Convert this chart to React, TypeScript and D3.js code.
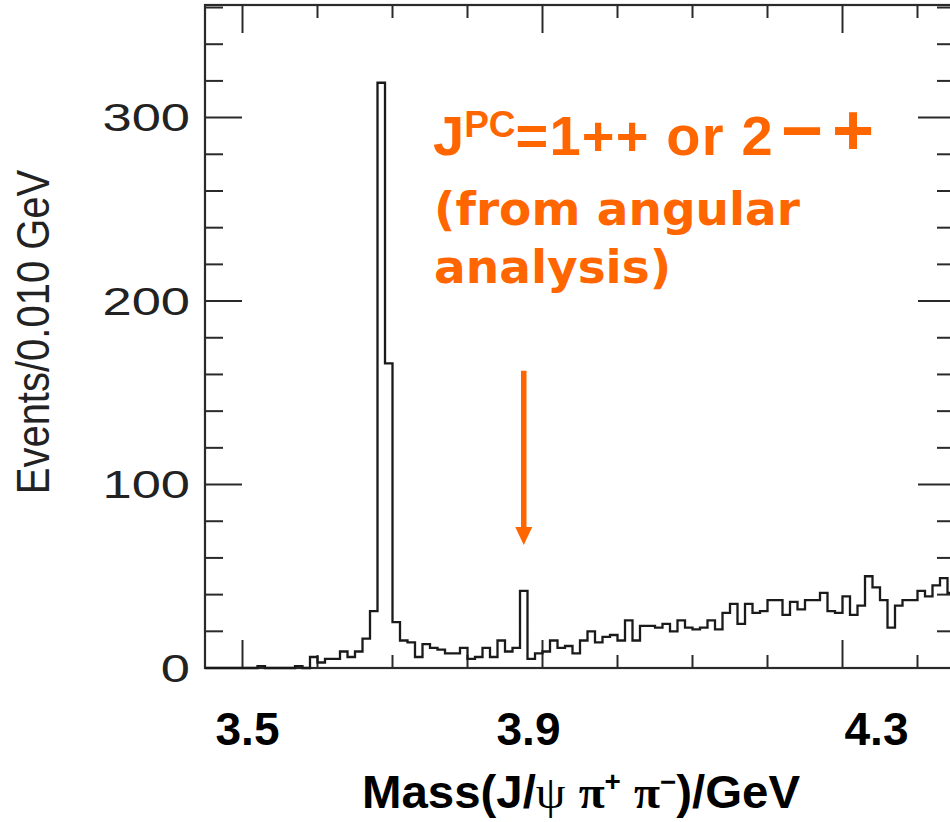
import React from 'react';
import * as d3 from 'd3';

// Histogram: Mass(J/psi pi+ pi-) in 0.010 GeV bins starting at 3.45 GeV
const binStart = 3.45;
const binWidth = 0.01;
const counts = [
  0, 0, 0, 0, 0, 0, 0, 1, 0, 0,
  0, 0, 1, 0, 6, 3, 5, 5, 9, 6,
  9, 16, 31, 319, 166, 25, 15, 14, 6, 13,
  11, 10, 8, 8, 11, 5, 6, 11, 6, 15,
  9, 11, 42, 5, 8, 9, 15, 11, 12, 8,
  15, 20, 14, 17, 18, 15, 26, 15, 23, 23,
  22, 24, 20, 26, 22, 21, 22, 26, 21, 30,
  35, 24, 35, 30, 31, 37, 37, 29, 36, 32,
  37, 37, 41, 31, 30, 39, 29, 34, 50, 44,
  37, 22, 34, 37, 37, 42, 39, 45, 49, 41,
];

const xMinorTicks = [3.5, 3.6, 3.7, 3.8, 3.9, 4.0, 4.1, 4.2, 4.3, 4.4];
const xMajorTicks = [3.5, 3.9, 4.3];
const xTickLabels = ['3.5', '3.9', '4.3'];
const yMajorTicks = [0, 100, 200, 300];
const yTickLabels = ['0', '100', '200', '300'];
const yMinorTicks = d3.range(0, 361, 20);
const arrowMass = 3.875;
const arrowFrom = 162;
const arrowTo = 67;

// the slide's pasted tick labels sit slightly off the tick marks (px nudges)
const xLabelNudge = [5, -14, 34];

export default function App() {
  const W = 950;
  const H = 822;
  const left = 205, right = 955, top = 5, bottom = 668;
  const x = d3.scaleLinear().domain([3.45, 4.45]).range([left, right]);
  const y = d3.scaleLinear().domain([0, 300]).range([bottom, 117.6]);

  const pts: [number, number][] = [];
  counts.forEach((c, i) => {
    const lo = binStart + i * binWidth;
    const hi = lo + binWidth;
    pts.push([x(lo), y(c)]);
    pts.push([x(hi), y(c)]);
  });
  const line = d3.line<[number, number]>().x(d => d[0]).y(d => d[1]);
  const histPath = line(pts) || '';

  const axisColor = '#2a2a2a';
  const orange = '#ff6600';
  const isMajorX = (v: number) => xMajorTicks.some(m => Math.abs(m - v) < 1e-6);
  const isMajorY = (v: number) => yMajorTicks.includes(v);

  const ax = x(arrowMass);
  const ay0 = y(arrowFrom);
  const ay1 = y(arrowTo);

  return (
    <svg width={W} height={H} style={{ position: 'absolute', left: 0, top: 0, background: '#fff' }}>
      <rect x={0} y={0} width={W} height={H} fill="#fff" />
      {/* frame */}
      <rect x={left} y={top} width={right - left} height={bottom - top} fill="none" stroke={axisColor} strokeWidth={2.2} />
      {/* x ticks bottom & top */}
      {xMinorTicks.map(v => {
        const len = isMajorX(v) ? 28 : 13;
        return (
          <g key={'xt' + v}>
            <line x1={x(v)} x2={x(v)} y1={bottom} y2={bottom - len} stroke={axisColor} strokeWidth={2} />
            <line x1={x(v)} x2={x(v)} y1={top} y2={top + len} stroke={axisColor} strokeWidth={2} />
          </g>
        );
      })}
      {/* y ticks left & right */}
      {yMinorTicks.map(v => {
        const len = isMajorY(v) ? 37 : 18;
        return (
          <g key={'yt' + v}>
            <line x1={left} x2={left + len} y1={y(v)} y2={y(v)} stroke={axisColor} strokeWidth={2} />
            <line x1={right} x2={right - len} y1={y(v)} y2={y(v)} stroke={axisColor} strokeWidth={2} />
          </g>
        );
      })}
      {/* histogram */}
      <path d={histPath} fill="none" stroke="#1a1a1a" strokeWidth={2.3} />

      {/* y tick labels (horizontally stretched as in the slide) */}
      {yMajorTicks.map((v, i) => (
        <text key={'yl' + v} transform={`translate(190,${y(v)}) scale(1.38,1)`} dy="0.36em" textAnchor="end"
          fontFamily="Liberation Sans, Arial, sans-serif" fontSize={38} fill="#222">
          {yTickLabels[i]}
        </text>
      ))}
      {/* y axis title */}
      <text transform="translate(49,332) rotate(-90) scale(1,1.15)" textAnchor="middle"
        fontFamily="Liberation Sans, Arial, sans-serif" fontSize={40} fill="#222">
        Events/0.010 GeV
      </text>

      {/* x tick labels */}
      {xMajorTicks.map((v, i) => (
        <text key={'xl' + v} x={x(v) + xLabelNudge[i]} y={745} textAnchor="middle"
          fontFamily="Liberation Sans, Arial, sans-serif" fontWeight="bold" fontSize={46} fill="#000"
          textLength={64} lengthAdjust="spacingAndGlyphs">
          {xTickLabels[i]}
        </text>
      ))}
      {/* x axis title */}
      <text x={362} y={808} textLength={438} lengthAdjust="spacingAndGlyphs"
        fontFamily="Liberation Sans, Arial, sans-serif" fontWeight="bold" fontSize={46} fill="#000">
        Mass(J/<tspan fontFamily="Liberation Serif, serif" fontWeight="normal">ψ</tspan>
        {' '}<tspan fontFamily="Liberation Serif, serif">π</tspan><tspan fontSize={27} dy={-17}>+</tspan>
        <tspan dy={17}> </tspan><tspan fontFamily="Liberation Serif, serif">π</tspan><tspan fontSize={27} dy={-17}>−</tspan>
        <tspan dy={17}>)/GeV</tspan>
      </text>

      {/* annotation */}
      <text x={433} y={155} fontFamily="Liberation Sans, Arial, sans-serif" fontWeight="bold" fontSize={56} fill={orange}>
        J<tspan fontSize={37} dy={-18}>PC</tspan><tspan dy={18} letterSpacing={1.2}>=1++ or 2</tspan><tspan fontSize={72} dx={7}>−</tspan><tspan fontSize={72} dx={9}>+</tspan>
      </text>
      <text x={434} y={225} fontFamily="DejaVu Sans, Verdana, sans-serif" fontWeight="bold" fontSize={47} fill={orange}>
        (from angular
      </text>
      <text x={434} y={283} fontFamily="DejaVu Sans, Verdana, sans-serif" fontWeight="bold" fontSize={47} fill={orange}>
        analysis)
      </text>
      {/* arrow */}
      <line x1={ax} x2={ax} y1={ay0} y2={ay1 - 16} stroke={orange} strokeWidth={5.5} />
      <path d={`M${ax - 8.5},${ay1 - 18} L${ax + 8.5},${ay1 - 18} L${ax},${ay1} Z`} fill={orange} />
    </svg>
  );
}
